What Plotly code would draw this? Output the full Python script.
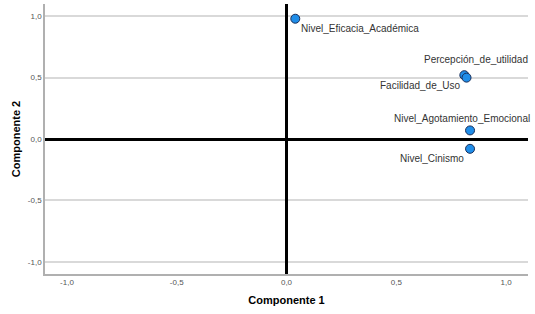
import plotly.graph_objects as go

labels = ["Nivel_Eficacia_Académica", "Percepción_de_utilidad", "Facilidad_de_Uso",
          "Nivel_Agotamiento_Emocional", "Nivel_Cinismo"]
comp1 = [0.04, 0.81, 0.82, 0.836, 0.836]
comp2 = [0.98, 0.52, 0.50, 0.07, -0.08]
tick_vals = [-1.0, -0.5, 0.0, 0.5, 1.0]
tick_text = ["-1,0", "-0,5", "0,0", "0,5", "1,0"]

# label placement (anchor, xshift, yshift)
label_pos = [("left", 4, -10), ("center", 12, 16), ("right", -5, -8),
             ("center", -8, 12), ("right", -4, -10)]

fig = go.Figure()
fig.add_trace(go.Scatter(
    x=comp1, y=comp2, mode="markers",
    marker=dict(size=9, color="#1f8de8", line=dict(color="#1a2f5a", width=1)),
    hoverinfo="text", text=labels, showlegend=False, cliponaxis=False))

for lab, xv, yv, (anc, xs, ys) in zip(labels, comp1, comp2, label_pos):
    fig.add_annotation(x=xv, y=yv, text=lab, showarrow=False, xanchor=anc, yanchor="middle",
                       xshift=xs, yshift=ys,
                       font=dict(family="Liberation Sans, Arial", size=10, color="#333333"))

fig.update_layout(
    width=535, height=314,
    margin=dict(l=45, r=7, t=4, b=40),
    paper_bgcolor="white", plot_bgcolor="white",
    font=dict(family="Liberation Sans, Arial", color="#333333"),
)
fig.update_xaxes(range=[-1.1, 1.1], tickvals=tick_vals, ticktext=tick_text,
                 showgrid=False, zeroline=True, zerolinecolor="black", zerolinewidth=2.5,
                 showline=True, linecolor="#b0b0b0", linewidth=1.5,
                 ticks="", tickfont=dict(size=8, color="#555555"),
                 title=dict(text="<b>Componente 1</b>", font=dict(size=11, color="black"), standoff=10))
fig.update_yaxes(range=[-1.1, 1.1], tickvals=tick_vals, ticktext=tick_text,
                 showgrid=True, gridcolor="#d9d9d9", gridwidth=1.5,
                 zeroline=True, zerolinecolor="black", zerolinewidth=2.5,
                 showline=True, linecolor="#b0b0b0", linewidth=1.5,
                 ticks="", tickfont=dict(size=8, color="#555555"),
                 title=dict(text="<b>Componente 2</b>", font=dict(size=11, color="black"), standoff=5))

fig.write_html("out.html")
